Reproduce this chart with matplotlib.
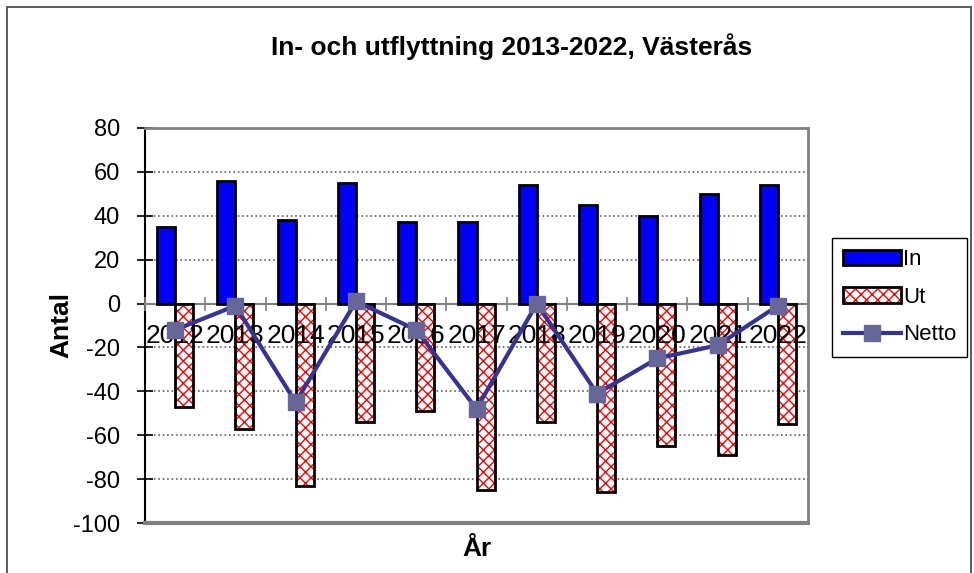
import matplotlib.pyplot as plt
import numpy as np
from matplotlib.patches import Rectangle

plt.rcParams['font.family'] = ['Liberation Sans', 'DejaVu Sans']
plt.rcParams['hatch.linewidth'] = 1.0
plt.rcParams['axes.unicode_minus'] = False

years = ['2012', '2013', '2014', '2015', '2016', '2017', '2018', '2019', '2020', '2021', '2022']
inflytt = [35, 56, 38, 55, 37, 37, 54, 45, 40, 50, 54]
utflytt = [-47, -57, -83, -54, -49, -85, -54, -86, -65, -69, -55]
netto = [i + u for i, u in zip(inflytt, utflytt)]

fig = plt.figure(figsize=(9.74, 5.73), dpi=100)
ax = fig.add_axes([145/974, 1 - 523/573, 663/974, 395/573])

x = np.arange(len(years))
w = 0.3
gray = '#808080'

# dotted grid behind everything
ax.set_ylim(-100, 80)
ax.set_xlim(-0.5, len(years) - 0.5)
ax.set_yticks(np.arange(-100, 81, 20))
ax.yaxis.grid(True, linestyle=':', color='#606060', linewidth=1.2)
ax.yaxis.set_zorder(0.5)
ax.xaxis.set_zorder(4)  # year labels sit on top of the bars

# bars
in_bars = ax.bar(x - w/2, inflytt, w, color='#0000ff', edgecolor='black', linewidth=2, zorder=3)
ut_fill = ax.bar(x + w/2, utflytt, w, color='white', edgecolor='red', hatch='xxx', linewidth=0, zorder=3)
ut_edge = ax.bar(x + w/2, utflytt, w, fill=False, edgecolor='black', linewidth=2, zorder=3)

# netto line
netto_line, = ax.plot(x, netto, color='#333399', linewidth=3, marker='s', markersize=11,
                      markerfacecolor='#666699', markeredgecolor='#666699', zorder=5)

# category axis crosses at 0
ax.spines['bottom'].set_position(('data', 0))
ax.spines['bottom'].set_color(gray)
ax.spines['bottom'].set_linewidth(1.5)
ax.spines['left'].set_color('black')
ax.spines['left'].set_linewidth(1.5)
for s in ['top', 'right']:
    ax.spines[s].set_color(gray)
    ax.spines[s].set_linewidth(2)
ax.axhline(-100, color=gray, linewidth=3, zorder=6, clip_on=False)

ax.set_xticks(x)
ax.set_xticklabels(years, fontsize=19)
ax.set_xticks(np.arange(-0.5, len(years), 1), minor=True)
ax.tick_params(axis='x', which='major', length=0, pad=15)
ax.tick_params(axis='x', which='minor', direction='inout', length=10, color=gray, width=1.2)
ax.tick_params(axis='y', direction='inout', length=12, width=1.2, labelsize=17, pad=12)

ax.set_ylabel('Antal', fontsize=19, fontweight='bold', labelpad=0)
ax.set_xlabel('År', fontsize=19, fontweight='bold')
ax.xaxis.set_label_coords(0.5, -0.035)

fig.text(0.525, 1 - 47/573, 'In- och utflyttning 2013-2022, Västerås', ha='center', va='center',
         fontsize=19, fontweight='bold')

in_handle = Rectangle((0, 0), 1, 1, facecolor='#0000ff', edgecolor='black', linewidth=2)
ax.legend([in_handle, (ut_fill[0], ut_edge[0]), netto_line],
          ['In', 'Ut', 'Netto'], loc='upper left', bbox_to_anchor=(832/974, 1 - 238/573),
          bbox_transform=fig.transFigure, fontsize=16, fancybox=False, edgecolor='black',
          framealpha=1, handlelength=2.6, handletextpad=0.1, labelspacing=0.75,
          borderpad=0.5, borderaxespad=0)

fig.patches.append(Rectangle((7/974, -0.05), 964/974, 1 - 7/573 + 0.05, transform=fig.transFigure,
                             fill=False, edgecolor='#404040', linewidth=1.2))

fig.savefig('out.png', dpi=100)
